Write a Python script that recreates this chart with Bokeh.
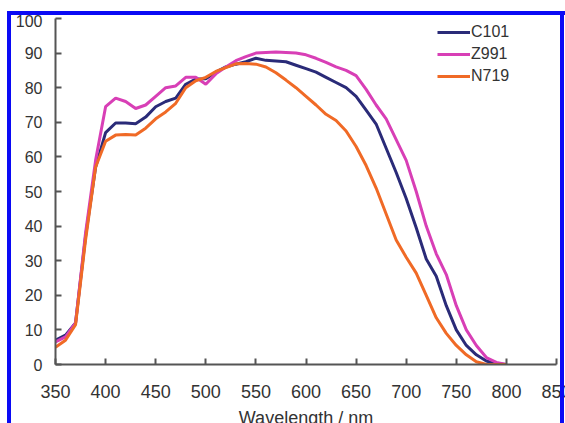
from bokeh.plotting import figure
from bokeh.models import Range1d, FixedTicker, GlobalInlineStyleSheet, InlineStyleSheet
from bokeh.embed import file_html
from bokeh.resources import INLINE

wavelength = [350, 360, 370, 380, 390, 400, 410, 420, 430, 440, 450, 460, 470, 480, 490,
              500, 510, 520, 530, 540, 550, 560, 570, 580, 590, 600, 610, 620, 630, 640,
              650, 660, 670, 680, 690, 700, 710, 720, 730, 740, 750, 760, 770, 780, 790, 800]

c101 = [7, 8.5, 12, 37, 57, 67, 69.8, 69.8, 69.6, 71.5, 74.5, 76, 77, 81, 82.5,
        82.6, 84.5, 86, 86.8, 87.5, 88.5, 87.9, 87.7, 87.5, 86.5, 85.5, 84.5, 83, 81.5, 80,
        77.5, 73.5, 69.5, 62.5, 55.5, 48, 39.5, 30.5, 25.5, 17, 10, 5.5, 2.8, 1, 0.2, 0]

z991 = [6.5, 8, 12, 38, 59, 74.5, 77, 76, 74, 75, 77.5, 80, 80.5, 83, 83,
        81, 84, 86, 87.8, 89, 90, 90.2, 90.3, 90.2, 90, 89.5, 88.5, 87.3, 86, 85,
        83.5, 79.5, 75, 71, 65, 59, 50, 40, 32, 26, 17, 10, 5.5, 2, 0.6, 0]

n719 = [5, 7, 11.5, 36, 57, 64.5, 66.3, 66.5, 66.3, 68.3, 71, 73, 75.5, 80, 82,
        83, 84.7, 85.8, 86.9, 87, 86.8, 86, 84.3, 82.2, 80, 77.5, 75, 72.3, 70.5, 67.5,
        63, 57.5, 51, 43.5, 36, 31, 26.4, 20, 13.5, 9, 5.5, 2.8, 0.8, 0, 0, 0]

series_names = ["C101", "Z991", "N719"]
series_colors = ["#2a2b78", "#d83fb6", "#f06a26"]

x_ticks = [350, 400, 450, 500, 550, 600, 650, 700, 750, 800, 850]
y_ticks = [0, 10, 20, 30, 40, 50, 60, 70, 80, 90, 100]

p = figure(frame_width=501, frame_height=346, output_backend="svg", toolbar_location=None,
           x_range=Range1d(350, 850), y_range=Range1d(0, 100),
           min_border_left=44, min_border_right=30, min_border_top=4, min_border_bottom=72)

BLUE = "#0a0af5"
p.styles = {
    "position": "relative", "left": "7px", "top": "14px", "box-sizing": "content-box",
    "border-left": "4px solid " + BLUE,
}
frame_css = (
    ":host::before { content: ''; position: absolute; left: -4px; top: -3px; width: 570px; "
    "height: 4px; background: " + BLUE + "; z-index: 50; pointer-events: none; }\n"
    ":host::after { content: ''; position: absolute; left: 549px; top: -3px; width: 4px; "
    "height: 420px; background: " + BLUE + "; z-index: 50; pointer-events: none; "
    "box-shadow: -553px 410px 0 0 " + BLUE + "; }\n"
)
p.stylesheets = [InlineStyleSheet(css=frame_css),
                 GlobalInlineStyleSheet(css="html, body { overflow: hidden; }")]

p.background_fill_color = "white"
p.border_fill_color = "white"
p.outline_line_color = None
p.xgrid.grid_line_color = None
p.ygrid.grid_line_color = None

for ys, name, col in zip([c101, z991, n719], series_names, series_colors):
    p.line(wavelength, ys, line_color=col, line_width=3, legend_label=name)

p.xaxis.ticker = FixedTicker(ticks=x_ticks)
p.yaxis.ticker = FixedTicker(ticks=y_ticks)
for ax in (p.xaxis[0], p.yaxis[0]):
    ax.axis_line_color = "#555555"
    ax.axis_line_width = 2
    ax.major_tick_line_color = "#555555"
    ax.major_tick_line_width = 2
    ax.major_tick_in = 6
    ax.major_tick_out = 0
    ax.minor_tick_line_color = None
    ax.major_label_text_color = "#333333"
    ax.major_label_text_font = "Liberation Sans"

p.xaxis.major_label_text_font_size = "18px"
p.xaxis.major_label_standoff = 20
p.yaxis.major_label_text_font_size = "16px"
p.yaxis.major_label_standoff = 13

p.xaxis.axis_label = "Wavelength / nm"
p.xaxis.axis_label_text_font = "Liberation Sans"
p.xaxis.axis_label_text_font_size = "18px"
p.xaxis.axis_label_text_font_style = "normal"
p.xaxis.axis_label_text_color = "#333333"
p.xaxis.axis_label_standoff = 7

lg = p.legend[0]
lg.location = (382, 277)
lg.border_line_color = None
lg.background_fill_alpha = 0
lg.padding = 0
lg.margin = 0
lg.spacing = 0
lg.glyph_width = 33
lg.glyph_height = 22
lg.label_height = 22
lg.label_standoff = 1
lg.label_text_font = "Liberation Sans"
lg.label_text_font_size = "16px"
lg.label_text_color = "#333333"

open("out.html", "w").write(file_html(p, INLINE))
